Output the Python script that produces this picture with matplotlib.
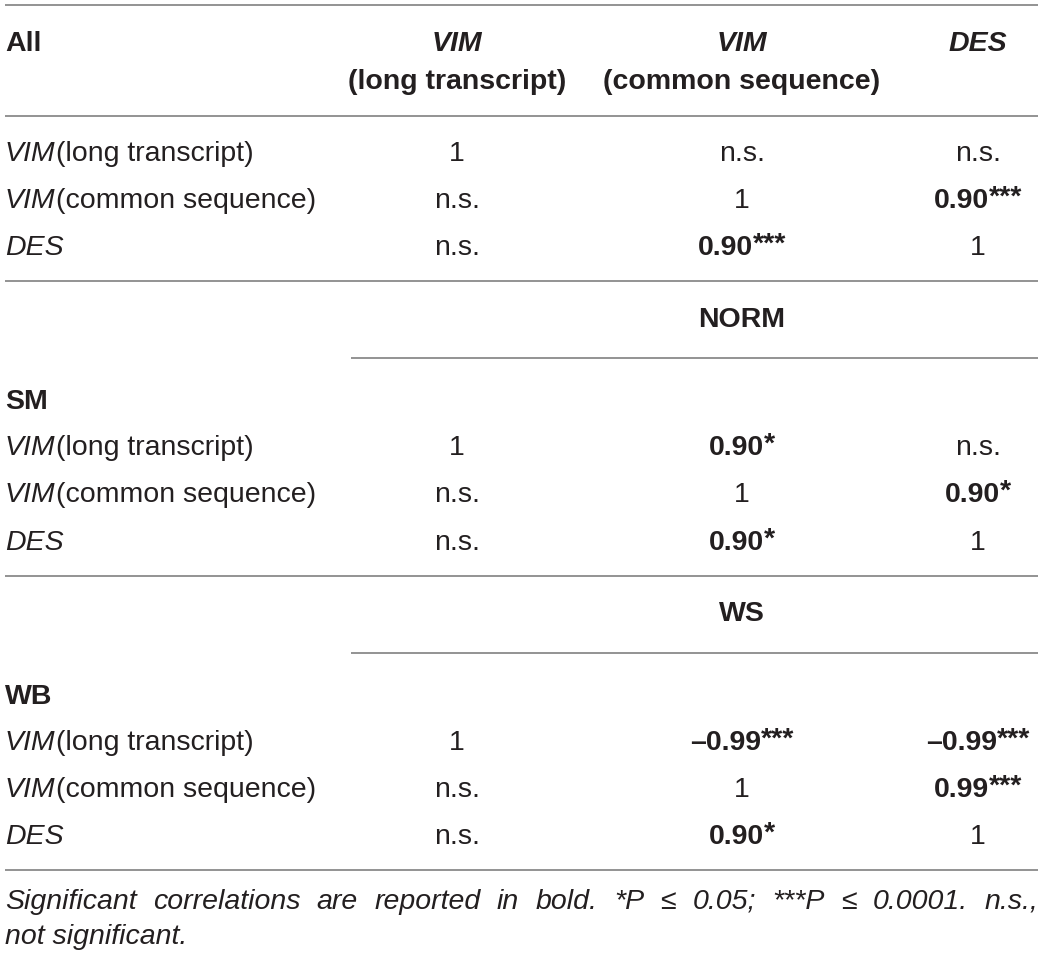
import matplotlib
matplotlib.use("Agg")
import matplotlib.pyplot as plt

# table content
col_heads = [("VIM", "(long transcript)"),
             ("VIM", "(common sequence)"),
             ("DES", "")]
row_names = [("VIM", "(long transcript)"),
             ("VIM", "(common sequence)"),
             ("DES", "")]
group_names = ["All", "SM", "WB"]
span_heads = ["", "NORM", "WS"]
all_vals = [["1", "n.s.", "n.s."],
            ["n.s.", "1", "0.90***"],
            ["n.s.", "0.90***", "1"]]
sm_vals = [["1", "0.90*", "n.s."],
           ["n.s.", "1", "0.90*"],
           ["n.s.", "0.90*", "1"]]
wb_vals = [["1", "\u20130.99***", "\u20130.99***"],
           ["n.s.", "1", "0.99***"],
           ["n.s.", "0.90*", "1"]]
note_line1 = ("Significant correlations are reported in bold. *P \u2264 0.05; "
              "***P \u2264 0.0001. n.s.,").split(" ")
note_line2 = "not significant."

W, H = 1043, 957
FONT = "Liberation Sans"
FS = 20.5
INK = "#231f20"
RULE = "#8a8a8a"
DY = 2  # nudge text down a touch

fig = plt.figure(figsize=(W / 100, H / 100), dpi=100)
ax = fig.add_axes([0, 0, 1, 1])
ax.set_xlim(0, W)
ax.set_ylim(H, 0)
ax.axis("off")
fig.canvas.draw()
rend = fig.canvas.get_renderer()


def width(t):
    return t.get_window_extent(renderer=rend).width


def segs(x, y, parts, ha="left"):
    # parts: (text, weight, style, size, dy)
    objs = []
    for txt, wt, st, sz, dy in parts:
        t = ax.text(0, y + dy + DY, txt, fontsize=sz, fontweight=wt, fontstyle=st,
                    family=FONT, color=INK, va="center", ha="left")
        objs.append(t)
    total = sum(width(t) for t in objs)
    cur = x - total / 2 if ha == "center" else x
    for t in objs:
        t.set_x(cur)
        cur += width(t)


def value(x, y, s):
    stars = s.count("*")
    base = s.rstrip("*")
    if stars:
        segs(x, y, [(base, "bold", "normal", FS, 0),
                    ("*" * stars, "bold", "normal", FS, -3)], ha="center")
    else:
        segs(x, y, [(base, "normal", "normal", FS, 0)], ha="center")


def rule(y, x0=5):
    ax.plot([x0, 1038], [y, y], color=RULE, lw=1.3, solid_capstyle="butt")


col_x = [457, 742, 978]
left_x = 5

# header
rule(5)
segs(left_x, 42, [("All", "bold", "normal", FS, 0)])
for cx, (a, b) in zip(col_x, col_heads):
    segs(cx, 42, [(a, "bold", "italic", FS, 0)], ha="center")
    if b:
        segs(cx, 80, [(b, "bold", "normal", FS, 0)], ha="center")
rule(116)

blocks = [(all_vals, None, [152, 199, 246]),
          (sm_vals, 400, [446, 493, 541]),
          (wb_vals, 695, [741, 788, 835])]
span_y = [None, 318, 612]
span_rule = [None, 358, 653]
block_end = [281, 576, 870]

for i, (vals, gy, rows_y) in enumerate(blocks):
    if span_heads[i]:
        segs(col_x[1], span_y[i], [(span_heads[i], "bold", "normal", FS, 0)], ha="center")
        rule(span_rule[i], x0=351)
        segs(left_x, gy, [(group_names[i], "bold", "normal", FS, 0)])
    for (it, rest), ry, rv in zip(row_names, rows_y, vals):
        parts = [(it, "normal", "italic", FS, 0)]
        if rest:
            parts.append((rest, "normal", "normal", FS, 0))
        segs(left_x, ry, parts)
        for cx, v in zip(col_x, rv):
            value(cx, ry, v)
    rule(block_end[i])

# footnote, first line justified
words = [ax.text(0, 900 + DY, w, fontsize=FS, fontstyle="italic", family=FONT,
                 color=INK, va="center", ha="left") for w in note_line1]
used = sum(width(t) for t in words)
gap = (1038 - left_x - used) / (len(words) - 1)
cur = left_x
for t in words:
    t.set_x(cur)
    cur += width(t) + gap
ax.text(left_x, 935 + DY, note_line2, fontsize=FS, fontstyle="italic", family=FONT,
        color=INK, va="center", ha="left")

fig.savefig("out.png", dpi=100)
